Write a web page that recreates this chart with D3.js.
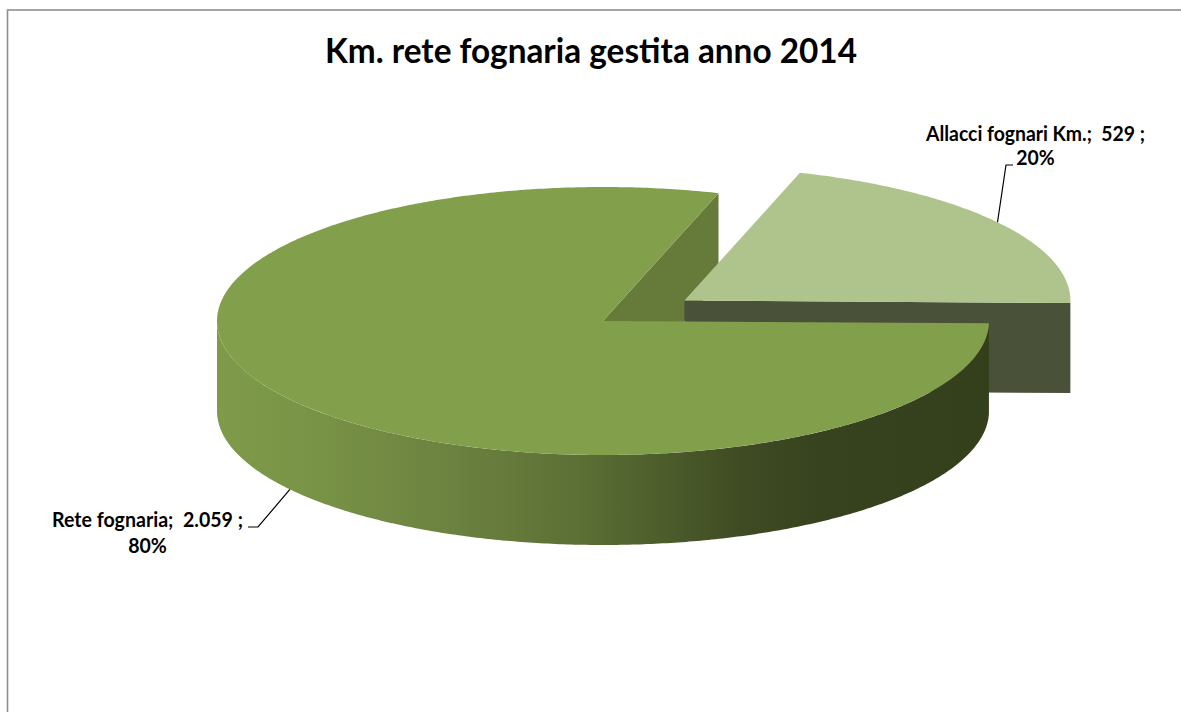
<!DOCTYPE html>
<html>
<head>
<meta charset="utf-8">
<script src="https://cdn.jsdelivr.net/npm/d3@7"></script>
<style>
  html, body { margin: 0; padding: 0; background: #ffffff; overflow: hidden; }
  svg { display: block; }
  text { font-family: Lato, "Open Sans", sans-serif; font-weight: 700; fill: #000; white-space: pre; }
</style>
</head>
<body>
<svg id="chart" width="1181" height="712"></svg>
<script>
// ---- data ----
const categories = ["Rete fognaria", "Allacci fognari Km."];
const kmValues = [2059, 529];
const chartTitle = "Km. rete fognaria gestita anno 2014";

// ---- styling ----
const topColors = ["#82a04b", "#afc48c"];
const cutColors = ["#667a3a", "#4a5139"];
const wallStops = [
  [0.00, "#7e9a4a"], [0.10, "#7a9547"], [0.22, "#728a43"], [0.35, "#687d3d"],
  [0.47, "#5c6f35"], [0.57, "#4d5e2c"], [0.68, "#3f4b23"], [0.78, "#37431e"], [1.00, "#34401c"]
];

// ---- geometry of the tilted pie ----
const cx = 603, cy = 321, rx = 386, ry = 134, depth = 90;
const firstSliceDeg = 91;          // where the first slice begins, clockwise from 12 o'clock
const explodeBy = [0, 0.26];       // radial pull-out of each slice, as a share of the radius

const svg = d3.select("#chart");

// chart-area frame (its right and bottom sides fall outside the view)
svg.append("rect")
  .attr("x", 7.5).attr("y", 10).attr("width", 1400).attr("height", 900)
  .attr("fill", "none").attr("stroke", "#8e8e8e").attr("stroke-width", 1.6);

// unit-circle coordinates -> screen
const xs = d3.scaleLinear().domain([-1, 1]).range([cx - rx, cx + rx]);
const ys = d3.scaleLinear().domain([-1, 1]).range([cy + ry, cy - ry]);

const start = firstSliceDeg * Math.PI / 180;
const pie = d3.pie().sort(null).value(d => d).startAngle(start).endAngle(start + 2 * Math.PI);
const arcs = pie(kmValues).map((a, i) => {
  const mid = (a.startAngle + a.endAngle) / 2;
  return {
    ...a, i, mid,
    ox: explodeBy[i] * Math.sin(mid),
    oy: explodeBy[i] * Math.cos(mid)
  };
});

const pt = (s, ang, r, z) => [xs(s.ox + r * Math.sin(ang)), ys(s.oy + r * Math.cos(ang)) + z];
const sample = (a0, a1) => {
  const n = Math.max(2, Math.ceil(Math.abs(a1 - a0) / 0.01));
  return d3.range(n + 1).map(k => a0 + (a1 - a0) * k / n);
};
const closed = d3.line().curve(d3.curveLinearClosed);

// gradient for the curved outer wall
const defs = svg.append("defs");
const grad = defs.append("linearGradient").attr("id", "wallShade")
  .attr("gradientUnits", "userSpaceOnUse")
  .attr("x1", cx - rx).attr("x2", cx + rx).attr("y1", 0).attr("y2", 0);
wallStops.forEach(([o, c]) => grad.append("stop").attr("offset", o).attr("stop-color", c));

const faces = svg.append("g");

// radial cut faces turned towards the viewer
arcs.forEach(s => {
  const ends = [];
  if (Math.sin(s.startAngle) < 0) ends.push(s.startAngle);
  if (Math.sin(s.endAngle) > 0) ends.push(s.endAngle);
  ends.forEach(ang => {
    faces.append("path")
      .attr("d", closed([pt(s, 0, 0, 0), pt(s, ang, 1, 0), pt(s, ang, 1, depth), pt(s, 0, 0, depth)]))
      .attr("fill", cutColors[s.i]);
  });
});

// visible part of the outer wall: front half of the ellipse
function frontRanges(a0, a1) {
  const out = [];
  [0, 2 * Math.PI, 4 * Math.PI].forEach(k => {
    const lo = Math.max(a0, Math.PI / 2 + k), hi = Math.min(a1, 1.5 * Math.PI + k);
    if (hi > lo) out.push([lo, hi]);
  });
  return out;
}

// slices further back are painted first
arcs.slice().sort((a, b) => Math.cos(b.mid) - Math.cos(a.mid)).forEach(s => {
  frontRanges(s.startAngle, s.endAngle).forEach(([lo, hi]) => {
    const angs = sample(lo, hi);
    const pts = angs.map(a => pt(s, a, 1, 0)).concat(angs.slice().reverse().map(a => pt(s, a, 1, depth)));
    faces.append("path").attr("d", closed(pts))
      .attr("fill", s.i === 0 ? "url(#wallShade)" : cutColors[s.i]);
  });
  const rim = sample(s.startAngle, s.endAngle).map(a => pt(s, a, 1, 0));
  faces.append("path").attr("d", closed([pt(s, 0, 0, 0)].concat(rim)))
    .attr("fill", topColors[s.i]);
});

// ---- title ----
svg.append("text")
  .attr("x", 591).attr("y", 62.7)
  .attr("text-anchor", "middle")
  .style("font-size", "35px")
  .attr("textLength", 532).attr("lengthAdjust", "spacingAndGlyphs")
  .text(chartTitle);

// ---- data labels ----
const total = d3.sum(kmValues);
const itFormat = d3.formatLocale({ decimal: ",", thousands: ".", grouping: [3], currency: ["€", ""] }).format(",d");
const pctFormat = v => Math.round(v * 100) + "%";

const labelLayout = [
  // Rete fognaria: leader starts at the foot of the wall
  { anchorR: 1, anchorZ: depth, elbow: [258, 527], tail: [248, 527], cx: 147.5, base: [527.3, 552.7], width: 191 },
  // Allacci: leader starts on the rim of the top face
  { anchorR: 1, anchorZ: 0, elbow: [1006, 165], tail: [1013, 165], cx: 1035.5, base: [140.7, 165], width: 219 }
];

const labels = svg.append("g");
arcs.forEach(s => {
  const L = labelLayout[s.i];
  const anchor = pt(s, s.mid, L.anchorR, L.anchorZ);
  labels.append("path")
    .attr("d", d3.line()([anchor, L.elbow, L.tail]))
    .attr("fill", "none").attr("stroke", "#000").attr("stroke-width", 1.2);

  const line1 = categories[s.i] + ";  " + itFormat(s.data) + " ;";
  const line2 = pctFormat(s.data / total);
  const t1 = labels.append("text").attr("x", L.cx).attr("y", L.base[0])
    .attr("text-anchor", "middle").style("font-size", "21px").text(line1);
  const natural = t1.node().getComputedTextLength();
  const squeeze = L.width / natural;
  t1.attr("textLength", L.width).attr("lengthAdjust", "spacingAndGlyphs");
  const t2 = labels.append("text").attr("x", L.cx).attr("y", L.base[1])
    .attr("text-anchor", "middle").style("font-size", "21px").text(line2);
  const w2 = t2.node().getComputedTextLength();
  t2.attr("textLength", w2 * squeeze).attr("lengthAdjust", "spacingAndGlyphs");
});
</script>
</body>
</html>
